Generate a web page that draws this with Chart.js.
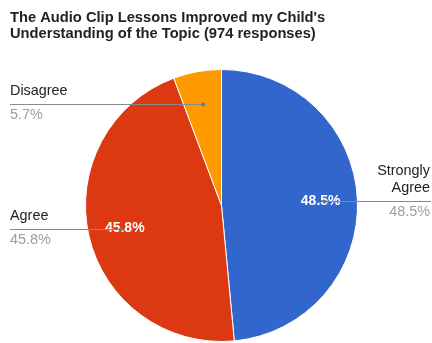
<!DOCTYPE html>
<html>
<head>
<meta charset="utf-8">
<script src="https://cdn.jsdelivr.net/npm/chart.js@4.4.1/dist/chart.umd.min.js"></script>
<style>
  body { margin: 0; background: #fff; }
  #wrap { width: 432px; height: 343px; }
</style>
</head>
<body>
<div id="wrap"><canvas id="pieChart" width="432" height="343"></canvas></div>
<script>
const titleLines = ["The Audio Clip Lessons Improved my Child's", 'Understanding of the Topic (974 responses)'];
const categories = ['Strongly Agree', 'Agree', 'Disagree'];
const percents = [48.5, 45.8, 5.7];
const sliceColors = ['#3366cc', '#dc3912', '#ff9900'];

// outside labels with leader lines, drawn after the pie
const labelPlugin = {
    id: 'sliceLabels',
    afterDraw(chart) {
        const ctx = chart.ctx;
        const meta = chart.getDatasetMeta(0);
        ctx.save();

        // title
        ctx.fillStyle = '#222';
        ctx.font = 'bold 14.7px Arial, "Liberation Sans", sans-serif';
        ctx.textAlign = 'left';
        ctx.textBaseline = 'alphabetic';
        ctx.fillText(titleLines[0], 10, 22);
        ctx.fillText(titleLines[1], 10, 38);

        const pts = meta.data.map(function(arc) {
            const p = arc.getProps(['x', 'y', 'startAngle', 'endAngle', 'outerRadius'], true);
            const mid = (p.startAngle + p.endAngle) / 2;
            return {
                mid: mid,
                cx: p.x, cy: p.y, r: p.outerRadius,
                dx: p.x + Math.cos(mid) * p.outerRadius * 0.76,
                dy: p.y + Math.sin(mid) * p.outerRadius * 0.76,
                share: (p.endAngle - p.startAngle) / (Math.PI * 2)
            };
        });

        // percent text inside the big slices
        ctx.fillStyle = '#fff';
        ctx.font = 'bold 14px Arial, "Liberation Sans", sans-serif';
        ctx.textAlign = 'center';
        ctx.textBaseline = 'middle';
        pts.forEach(function(pt, i) {
            if (pt.share < 0.1) return;
            const tx = pt.cx + Math.cos(pt.mid) * pt.r * 0.73;
            const ty = pt.cy + Math.sin(pt.mid) * pt.r * 0.73;
            ctx.fillText(percents[i].toFixed(1) + '%', tx, ty);
        });

        // leader lines
        ctx.strokeStyle = '#8a8a8a';
        ctx.fillStyle = '#777';
        ctx.lineWidth = 1;
        pts.forEach(function(pt) {
            const right = Math.cos(pt.mid) > 0;
            const y = Math.round(pt.dy) + 0.5;
            ctx.beginPath();
            ctx.moveTo(pt.dx, y);
            ctx.lineTo(right ? 431 : 10, y);
            ctx.stroke();
            ctx.beginPath();
            ctx.arc(pt.dx, y, 2, 0, Math.PI * 2);
            ctx.fill();
        });

        // category names and percents
        ctx.font = '14.4px Arial, "Liberation Sans", sans-serif';
        ctx.textBaseline = 'alphabetic';
        pts.forEach(function(pt, i) {
            const right = Math.cos(pt.mid) > 0;
            const y = Math.round(pt.dy);
            const x = right ? 430 : 10;
            ctx.textAlign = right ? 'right' : 'left';
            const words = right ? categories[i].split(' ') : [categories[i]];
            ctx.fillStyle = '#222';
            words.forEach(function(w, k) {
                ctx.fillText(w, x, y - 9 - (words.length - 1 - k) * 17);
            });
            ctx.fillStyle = '#9e9e9e';
            ctx.fillText(percents[i].toFixed(1) + '%', x, y + 15);
        });

        ctx.restore();
    }
};

new Chart(document.getElementById('pieChart').getContext('2d'), {
    type: 'pie',
    data: {
        labels: categories,
        datasets: [{
            data: percents,
            backgroundColor: sliceColors,
            borderColor: '#fff',
            borderWidth: 1
        }]
    },
    options: {
        responsive: false,
        animation: false,
        layout: {
            padding: { left: 85, right: 74, top: 69, bottom: 1 }
        },
        plugins: {
            legend: { display: false },
            title: { display: false },
            tooltip: { enabled: false }
        }
    },
    plugins: [labelPlugin]
});
</script>
</body>
</html>
